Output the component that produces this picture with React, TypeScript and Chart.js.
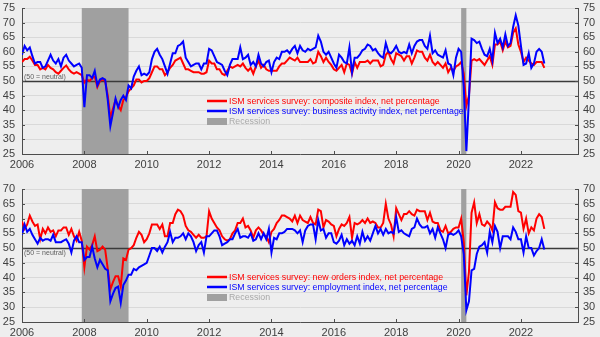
import React, { useEffect, useRef } from "react";
import { Chart, registerables } from "chart.js";

Chart.register(...registerables);

// ---------- data ----------
const FIRST_YEAR = 2006; // first monthly observation: Jan 2006
const X_MIN = 2006;
const X_MAX = 2023.83;
const X_TICK_STEP = 2;

const compositeLabel = "ISM services survey: composite index, net percentage";
const businessLabel = "ISM services survey: business activity index, net percentage";
const newOrdersLabel = "ISM services survey: new orders index, net percentage";
const employmentLabel = "ISM services survey: employment index, net percentage";
const recessionLabel = "Recession";
const neutralNote = "(50 = neutral)";

// recession periods (decimal years)
const recessionStarts = [2007 + 11 / 12, 2020 + 1 / 12];
const recessionEnds = [2009 + 5 / 12, 2020 + 3 / 12];

const compositeIdx = [
  56.5, 57.5, 57.5, 58.3, 57, 55.5, 55.5, 54, 54.5, 54, 55.5, 54.5,
  54, 53, 52.5, 53.5, 54.5, 55.3, 54, 53, 52.5, 53, 52.5, 52,
  49.5, 50.5, 50, 51, 51.5, 48, 50, 50.5, 50, 45, 37.5, 40.5,
  43.5, 41.5, 40, 43.5, 44.5, 46.5, 47.5, 48.5, 50.5, 50.5, 49.5, 50,
  50, 51, 53, 55, 55, 54, 54, 52, 53, 54.5, 55.5, 57,
  57.5, 58, 56, 54, 54, 53.5, 53, 53, 53, 52.5, 52.5, 53,
  57, 56, 56, 54, 54, 52.5, 52, 53.5, 55, 54.5, 55, 55.5,
  55, 56, 54.5, 53.5, 54.5, 52.5, 55, 57, 54.5, 55.5, 54, 53.5,
  53.5, 53.5, 53.5, 55, 56, 56, 57, 58, 57.5, 57, 58, 56.5,
  56.5, 56.5, 56.5, 57.5, 56, 56.5, 60, 58.5, 56.5, 58, 56.5, 55.5,
  54, 53.5, 54.5, 55.5, 53, 56, 55.5, 52.5, 56.5, 54.5, 56.5, 56.5,
  56.5, 57, 56, 57, 57, 57, 55, 55.5, 59, 60, 57.5, 56,
  59.5, 59, 58.5, 57, 58.5, 58.5, 56, 58, 60.5, 60, 60, 58,
  57, 59, 56.5, 55.5, 56.5, 55.5, 54.5, 56, 53, 54.5, 53.5, 55,
  55.5, 56.5, 52.5, 41.5, 45, 57, 57.5, 57, 57.5, 56.5, 55.5, 57,
  58.5, 55.5, 62.5, 62.5, 63.5, 60.5, 63.5, 61.5, 62, 66.5, 68, 62.5,
  60, 56.5, 58, 57, 56, 55.5, 56.5, 56.5, 56.5, 54.5,
];

const businessActivity = [
  59, 62, 60.5, 61.5, 58.5, 56, 56.5, 56.5, 54.5, 55, 57, 59,
  57, 56, 57.5, 55, 58, 59, 57, 56, 55, 55.5, 56, 54.5,
  41, 52, 52, 51, 53.5, 48.5, 50.5, 51, 50.5, 43.5, 34.5, 39,
  44, 41, 43.5, 45, 43.5, 48.5, 47.5, 51.5, 53.5, 55, 52, 52.5,
  52, 53, 57.5, 60, 61, 59, 57.5, 55, 52.5, 56, 59.5, 59.5,
  62, 62.5, 63.5, 58, 56.5, 55, 55.5, 56, 56, 54, 56, 56,
  61, 60.5, 58.5, 56.5, 56, 55.5, 53.5, 52, 55.5, 57.5, 57.5, 57.5,
  61.5, 57.5, 58, 59, 55.5, 56.5, 55, 59, 56, 55, 56.5, 57,
  53, 56.5, 58, 57.5, 60, 60, 60.5, 59.5, 61, 62, 59.5, 62,
  60.5, 60, 61, 60.5, 61, 61.5, 65.5, 63.5, 60, 59, 60, 58,
  56, 54.5, 59, 58, 56.5, 56, 61.5, 53, 58, 58, 59, 60.5,
  61, 62.5, 62, 60.5, 61, 59.5, 58.5, 58, 63, 60, 59.5, 60.5,
  62, 60, 59.5, 60, 59.5, 62.5, 59.5, 62, 63.5, 64, 64, 62,
  61, 65.5, 59.5, 60.5, 59, 58.5, 58, 60.5, 56, 55.5, 52, 58,
  61, 60, 48, 26, 44, 64.5, 64, 63, 63.5, 61, 59, 58.5,
  61, 57, 66.5, 63, 64.5, 61.5, 66, 62, 63, 68.5, 72.5, 69,
  62, 55.5, 56, 59.5, 54.5, 56, 60, 61, 60, 56,
];

const newOrders = [
  59, 56.5, 58, 61, 59, 57.5, 58, 53, 56.5, 55, 57, 55.5,
  56, 54, 56, 56, 57, 57, 54.5, 56.5, 54, 52.5, 55.5, 52.5,
  43.5, 50.5, 49.5, 51, 54, 49, 49.5, 50.5, 49.5, 43, 36, 38.5,
  40.5, 40.5, 37, 46.5, 46, 49.5, 50, 51, 53.5, 55.5, 54.5, 52,
  53, 55, 58, 58, 58, 56.5, 58, 54, 54, 58.5, 58.5, 61.5,
  63, 62.5, 61, 57.5, 56, 55.5, 54.5, 53.5, 54.5, 53.5, 53.5, 54,
  62.5, 60, 58.5, 57, 56, 54, 53, 52.5, 53, 55, 56, 58.5,
  58.5, 60, 57, 57.5, 56, 53.5, 56, 57, 56, 54.5, 54, 52,
  55.5, 56.5, 58.5, 59.5, 61, 61, 60.5, 60, 59, 61, 58.5, 61,
  59.5, 59, 58.5, 60.5, 58.5, 58, 63, 62.5, 57, 59.5, 59, 58,
  57.5, 54, 56.5, 58, 57.5, 58.5, 60.5, 53.5, 58.5, 58, 58.5, 59.5,
  58.5, 60, 58.5, 59, 58.5, 57, 57, 58.5, 65, 60, 58, 54,
  63.5, 61.5, 59.5, 61.5, 61.5, 62.5, 61.5, 61, 63, 62.5, 62.5, 62.5,
  59.5, 62, 59, 58.5, 58.5, 56, 55.5, 57.5, 55, 55.5, 56.5, 57,
  57, 60, 52, 34, 42, 62, 65.5, 58.5, 61.5, 58, 57.5, 59,
  58, 56, 65.5, 63.5, 63, 63, 64, 64, 64, 69, 68, 62.5,
  62, 56.5, 60, 55, 57, 56, 60, 61.5, 60.5, 56.5,
];

const employment = [
  54.5, 58, 55.5, 56.5, 54.5, 53, 51.5, 53.5, 52.5, 53, 53, 52.5,
  54.5, 52, 52, 52, 52.5, 53, 51.5, 48.5, 52.5, 54, 52, 52,
  46, 47, 47, 50.5, 46.5, 43.5, 46, 44.5, 43, 42.5, 32, 34.5,
  36.5, 37, 31.5, 37.5, 39, 41, 41, 43, 42.5, 43.5, 44, 44.5,
  45, 47.5, 50, 50, 49, 50.5, 48.5, 50.5, 52, 55.5, 52, 53.5,
  53.5, 54, 55, 53, 55, 54, 52, 49, 51, 52, 48.5, 54,
  54, 55, 56, 56, 54, 51, 51.5, 52, 53, 53, 55, 56.5,
  53.5, 54, 54, 53.5, 55, 52.5, 53, 55, 53, 55, 53, 56.5,
  48.5, 53.5, 53, 55, 55, 55.5, 56.5, 56.5, 56.5, 56, 55, 56,
  52, 56, 57.5, 58, 58, 53, 59.5, 56, 56.5, 53.5, 55, 55,
  52, 51.5, 52.5, 54.5, 51, 53, 51.5, 52.5, 51, 54, 51.5, 55.5,
  52.5, 54, 52.5, 55, 57.5, 55, 56.5, 54.5, 56.5, 55, 55.5, 55,
  60.5, 55.5, 56, 55, 54.5, 54, 56.5, 57, 60, 58, 57, 57,
  57.5, 55, 56.5, 53.5, 57, 55, 53, 50, 54.5, 55, 54.5, 55,
  56, 54, 48, 29, 32, 42.5, 43, 48, 50.5, 51, 52, 48.5,
  55.5, 52, 57.5, 55.5, 50, 54, 54, 54, 53, 57, 55.5, 53,
  53, 48.5, 54, 50, 50, 47.5, 49, 50, 53, 49.5,
];

// ---------- styling ----------
const FONT = '"Liberation Sans", Arial, sans-serif';
const BG = "#eeeeee";
const AXIS = "#4d4d4d";
const GRID = "#d9d9d9";
const TEXT = "#404040";
const RED = "#ff0000";
const BLUE = "#0000ff";
const REC = "#a0a0a0";

const toPoints = (vals: number[]) =>
  vals.map((v, i) => ({ x: FIRST_YEAR + i / 12, y: v }));

const decoPlugin = {
  id: "deco",
  beforeDatasetsDraw(chart: any, _a: any, opts: any) {
    const { ctx, chartArea, scales } = chart;
    const x = scales.x;
    const y = scales.y;
    ctx.save();
    ctx.fillStyle = REC;
    for (let i = 0; i < recessionStarts.length; i++) {
      const x0 = x.getPixelForValue(recessionStarts[i]);
      const x1 = x.getPixelForValue(recessionEnds[i]);
      ctx.fillRect(x0, chartArea.top, x1 - x0, chartArea.bottom - chartArea.top);
    }
    const yp = Math.round(y.getPixelForValue(50)) + 0.5;
    ctx.strokeStyle = "#3a3a3a";
    ctx.lineWidth = 1.5;
    ctx.beginPath();
    ctx.moveTo(chartArea.left, yp);
    ctx.lineTo(chartArea.right, yp);
    ctx.stroke();
    ctx.font = `7px ${FONT}`;
    ctx.fillStyle = "#606060";
    ctx.textBaseline = "middle";
    ctx.textAlign = "left";
    ctx.fillText(neutralNote, chartArea.left + 2, yp + opts.noteOffset);
    ctx.restore();
  },
  afterDraw(chart: any) {
    // inward tick marks on all three axes
    const { ctx, chartArea, scales } = chart;
    ctx.save();
    ctx.strokeStyle = AXIS;
    ctx.lineWidth = 1;
    ctx.beginPath();
    for (const t of scales.x.ticks) {
      const px = Math.round(scales.x.getPixelForValue(t.value)) + 0.5;
      ctx.moveTo(px, chartArea.bottom);
      ctx.lineTo(px, chartArea.bottom - 3);
    }
    for (const t of scales.y.ticks) {
      const py = Math.round(scales.y.getPixelForValue(t.value)) + 0.5;
      ctx.moveTo(chartArea.left, py);
      ctx.lineTo(chartArea.left + 3, py);
      ctx.moveTo(chartArea.right, py);
      ctx.lineTo(chartArea.right - 3, py);
    }
    ctx.stroke();
    ctx.restore();
  },
};

const legendPlugin = {
  id: "boxLegend",
  afterDatasetsDraw(chart: any, _a: any, opts: any) {
    const { ctx, chartArea } = chart;
    const x0 = chartArea.left + opts.dx;
    ctx.save();
    ctx.font = `8.8px ${FONT}`;
    ctx.textBaseline = "middle";
    ctx.textAlign = "left";
    opts.items.forEach((it: any, i: number) => {
      const yy = chartArea.top + opts.dy + i * opts.step;
      if (it.box) {
        ctx.fillStyle = it.color;
        ctx.fillRect(x0, yy - 3, 20, 7);
      } else {
        ctx.strokeStyle = it.color;
        ctx.lineWidth = 2.5;
        ctx.beginPath();
        ctx.moveTo(x0, yy);
        ctx.lineTo(x0 + 20, yy);
        ctx.stroke();
      }
      ctx.fillStyle = it.textColor;
      ctx.fillText(it.label, x0 + 22, yy + 0.5);
    });
    ctx.restore();
  },
};

const zeroVPad = (s: any) => {
  s.paddingTop = 0;
  s.paddingBottom = 0;
};

function makeConfig(p: {
  front: number[];
  frontLabel: string;
  back: number[];
  backLabel: string;
  yMin: number;
  yMax: number;
  padTop: number;
  xHeight: number;
  noteOffset: number;
  legendDy: number;
}): any {
  const yTicks = (pad: number) => ({
    stepSize: 5,
    autoSkip: false,
    color: TEXT,
    font: { family: FONT, size: 11 },
    padding: pad,
  });
  return {
    type: "line",
    data: {
      datasets: [
        {
          label: p.frontLabel,
          data: toPoints(p.front),
          borderColor: BLUE,
          borderWidth: 2,
          pointRadius: 0,
          tension: 0,
          fill: false,
        },
        {
          label: p.backLabel,
          data: toPoints(p.back),
          borderColor: RED,
          borderWidth: 2,
          pointRadius: 0,
          tension: 0,
          fill: false,
        },
      ],
    },
    options: {
      responsive: false,
      animation: false,
      events: [],
      layout: { padding: { top: p.padTop, left: 0, right: 0, bottom: 0 } },
      scales: {
        x: {
          type: "linear",
          min: X_MIN,
          max: X_MAX,
          border: { display: true, color: AXIS, width: 1 },
          grid: { display: false, drawTicks: false },
          ticks: {
            stepSize: X_TICK_STEP,
            includeBounds: false,
            color: TEXT,
            font: { family: FONT, size: 11 },
            padding: 4,
            maxRotation: 0,
            autoSkip: false,
            callback: (v: number) => String(Math.round(v)),
          },
          afterBuildTicks: (s: any) => {
            s.ticks = s.ticks.filter(
              (t: any) => Number.isInteger(t.value) && (t.value - X_MIN) % X_TICK_STEP === 0
            );
          },
          afterFit: (s: any) => {
            s.height = p.xHeight;
            s.paddingLeft = 0;
            s.paddingRight = 0;
          },
        },
        y: {
          min: p.yMin,
          max: p.yMax,
          position: "left",
          border: { display: true, color: AXIS, width: 1 },
          grid: { color: GRID, lineWidth: 1, drawTicks: false },
          ticks: yTicks(7),
          afterFit: (s: any) => {
            s.width = 22;
            zeroVPad(s);
          },
        },
        y2: {
          min: p.yMin,
          max: p.yMax,
          position: "right",
          border: { display: true, color: AXIS, width: 1 },
          grid: { display: false, drawTicks: false },
          ticks: yTicks(5),
          afterFit: (s: any) => {
            s.width = 22;
            zeroVPad(s);
          },
        },
      },
      plugins: {
        legend: { display: false },
        tooltip: { enabled: false },
        deco: { noteOffset: p.noteOffset },
        boxLegend: {
          dx: 185,
          dy: p.legendDy,
          step: 10,
          items: [
            { label: p.backLabel, color: RED, textColor: RED },
            { label: p.frontLabel, color: BLUE, textColor: BLUE },
            { label: recessionLabel, color: REC, textColor: "#a8a8a8", box: true },
          ],
        },
      },
    },
    plugins: [decoPlugin, legendPlugin],
  };
}

function Panel(props: { height: number; cfg: any }) {
  const ref = useRef<HTMLCanvasElement | null>(null);
  useEffect(() => {
    if (!ref.current) return;
    const chart = new Chart(ref.current, props.cfg);
    return () => chart.destroy();
  }, []);
  return (
    <canvas
      ref={ref}
      width={600}
      height={props.height}
      style={{ display: "block", width: 600, height: props.height }}
    />
  );
}

export default function App() {
  const topCfg = makeConfig({
    front: businessActivity,
    frontLabel: businessLabel,
    back: compositeIdx,
    backLabel: compositeLabel,
    yMin: 25,
    yMax: 75,
    padTop: 8,
    xHeight: 14,
    noteOffset: -4,
    legendDy: 93,
  });
  const bottomCfg = makeConfig({
    front: employment,
    frontLabel: employmentLabel,
    back: newOrders,
    backLabel: newOrdersLabel,
    yMin: 25,
    yMax: 70,
    padTop: 19,
    xHeight: 15,
    noteOffset: 5,
    legendDy: 88,
  });
  return (
    <div
      style={{
        position: "absolute",
        left: 0,
        top: 0,
        width: 600,
        height: 337,
        background: BG,
        overflow: "hidden",
      }}
    >
      <Panel height={168} cfg={topCfg} />
      <div style={{ height: 2 }} />
      <Panel height={167} cfg={bottomCfg} />
    </div>
  );
}
